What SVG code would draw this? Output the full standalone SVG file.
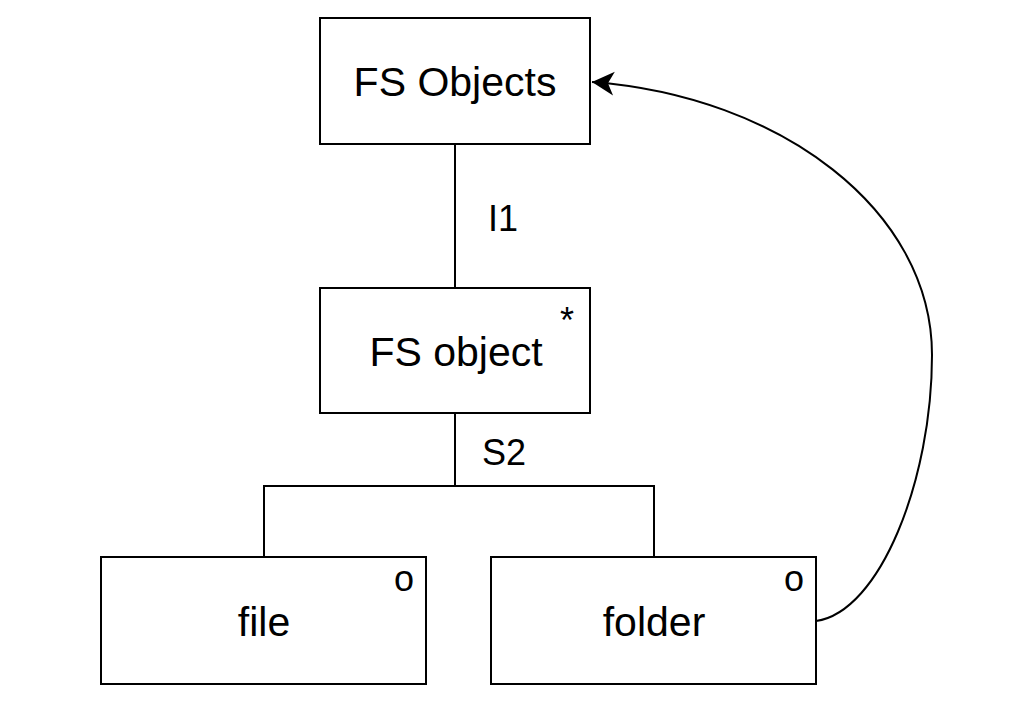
<svg xmlns="http://www.w3.org/2000/svg" width="1024" height="724" viewBox="0 0 1024 724">
<style>
.box{fill:#fff;stroke:#000;stroke-width:2}
.t{font-family:"Liberation Sans",Arial,sans-serif;font-size:41px;fill:#000;text-anchor:middle}
.s{font-family:"Liberation Sans",Arial,sans-serif;font-size:36px;fill:#000;text-anchor:middle}
.ln{fill:none;stroke:#000;stroke-width:2}
</style>
<defs>
<marker id="arr" markerWidth="24" markerHeight="26" refX="22" refY="13" orient="auto" markerUnits="userSpaceOnUse" viewBox="0 0 24 26">
<path d="M22,13 L0,1 L6,13 L0,25 Z" fill="#000"/>
</marker>
</defs>
<rect width="1024" height="724" fill="#fff"/>
<g id="fs-objects">
<rect class="box" x="320" y="18" width="270" height="126"/>
<text class="t" x="455" y="96">FS Objects</text>
</g>
<g id="fs-object">
<rect class="box" x="320" y="288" width="270" height="125"/>
<text class="t" x="456" y="366">FS object</text>
<text class="s" x="567" y="333">*</text>
</g>
<g id="file">
<rect class="box" x="101" y="557" width="325" height="127"/>
<text class="t" x="264" y="636">file</text>
<text class="s" x="404" y="591">o</text>
</g>
<g id="folder">
<rect class="box" x="491" y="557" width="325" height="127"/>
<text class="t" x="654" y="636">folder</text>
<text class="s" x="794" y="591">o</text>
</g>
<g id="connectors">
<line class="ln" x1="455" y1="144" x2="455" y2="288"/>
<path class="ln" d="M455,413 V486 M264,557 V486 H654 V557"/>
<path class="ln" d="M816,621 C880,612 932,480 932,355 C932,210 780,96 592,82" marker-end="url(#arr)"/>
<text class="s" x="503" y="231">I1</text>
<text class="s" x="504" y="465">S2</text>
</g>
</svg>
